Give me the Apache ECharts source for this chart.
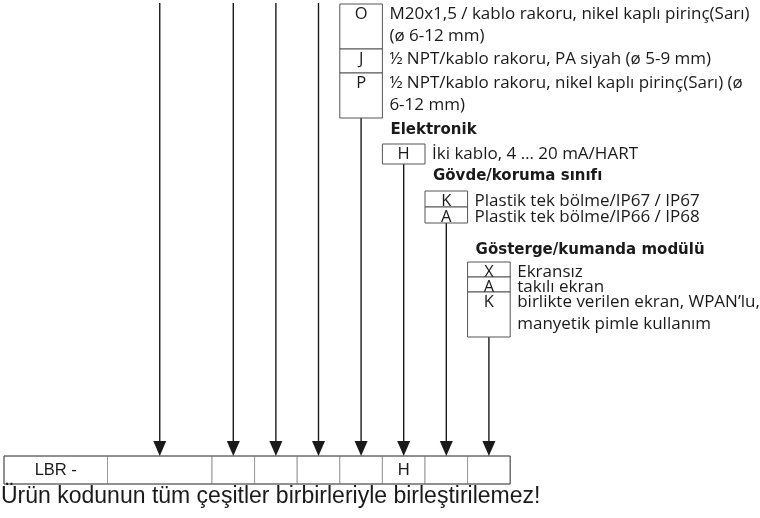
<!DOCTYPE html>
<html><head><meta charset="utf-8">
<script src="https://cdn.jsdelivr.net/npm/echarts@6/dist/echarts.min.js"></script>
<style>html,body{margin:0;padding:0;background:#fff}#chart{width:760px;height:518px}</style>
</head><body><div id="chart"></div>
<script>
// ---------------- data ----------------
const cellLabels = ['LBR -', '', '', '', '', '', 'H', '', ''];
const arrowSlots = [1, 2, 3, 4, 5, 6, 7, 8];
const groupSlots = [5, 6, 7, 8];
const groupTitles = ['', 'Elektronik', 'Gövde/koruma sınıfı', 'Gösterge/kumanda modülü'];
const optionCodes = [['O', 'J', 'P'], ['H'], ['K', 'A'], ['X', 'A', 'K']];
const optionTexts = [
  ['M20x1,5 / kablo rakoru, nikel kaplı pirinç(Sarı)\n(ø 6-12 mm)',
   '½ NPT/kablo rakoru, PA siyah (ø 5-9 mm)',
   '½ NPT/kablo rakoru, nikel kaplı pirinç(Sarı) (ø\n6-12 mm)'],
  ['İki kablo, 4 … 20 mA/HART'],
  ['Plastik tek bölme/IP67 / IP67', 'Plastik tek bölme/IP66 / IP68'],
  ['Ekransız', 'takılı ekran', 'birlikte verilen ekran, WPAN\u2019lu,\nmanyetik pimle kullanım']
];
const footnote = 'Ürün kodunun tüm çeşitler birbirleriyle birleştirilemez!';

// ---------------- layout (pixels in axis units) ----------------
const L = {
  rowX: 4, firstW: [103.5, 104.5], slotW: 42.6, rowTop: 456, rowBottom: 484,
  lineTop: 3, arrowLen: 15, arrowHalf: 6.5,
  groupRows: [[[4, 49], [49, 73], [73, 118]], [[144, 164]], [[191, 207], [207, 223]], [[262, 277], [277, 292], [292, 337]]],
  titleY: [0, 130, 176, 250],
  lineH: 22, textDy: 10.5, codeDy: 10, titleDx: 8, descDx: 7
};
const FONT_DESC = '17px "Open Sans"';
const FONT_CODE = '16.5px "Open Sans"';
const FONT_TITLE = 'bold 15px "DejaVu Sans"';
const FONT_CELL = '16.5px "Liberation Sans"';
const FONT_NOTE = '23px "Liberation Sans"';
const INK = '#1a1a1a';

function slotLeft(i) { let x = L.rowX; for (let k = 0; k < i; k++) x += k < 2 ? L.firstW[k] : L.slotW; return x; }
function slotRight(i) { return slotLeft(i) + (i < 2 ? L.firstW[i] : L.slotW); }
function slotCenter(i) { return (slotLeft(i) + slotRight(i)) / 2; }
function groupBottom(g) { const r = L.groupRows[g]; return r[r.length - 1][1]; }

const chart = echarts.init(document.getElementById('chart'), null, { renderer: 'canvas' });

const option = {
  animation: false,
  backgroundColor: '#fff',
  grid: { left: 0, right: 0, top: 0, bottom: 0 },
  xAxis: { type: 'value', min: 0, max: 760, show: false },
  yAxis: { type: 'value', min: 0, max: 518, inverse: true, show: false },
  series: [
    { // bottom code row cells
      type: 'custom', silent: true,
      data: cellLabels.map((t, i) => [i]),
      renderItem(params, api) {
        const i = api.value(0);
        const p0 = api.coord([slotLeft(i), L.rowTop]);
        const p1 = api.coord([slotRight(i), L.rowBottom]);
        return { type: 'group', children: [
          { type: 'rect', shape: { x: p0[0], y: p0[1], width: p1[0] - p0[0], height: p1[1] - p0[1] },
            style: { fill: '#fff', stroke: '#9a9a9a', lineWidth: 1 } },
          { type: 'text', style: { text: cellLabels[i], x: (p0[0] + p1[0]) / 2, y: (p0[1] + p1[1]) / 2,
            align: 'center', verticalAlign: 'middle', font: FONT_CELL, fill: INK } }
        ] };
      }
    },
    { // outer frame of code row
      type: 'custom', silent: true, data: [[0]],
      renderItem(params, api) {
        const p0 = api.coord([slotLeft(0), L.rowTop]);
        const p1 = api.coord([slotRight(cellLabels.length - 1), L.rowBottom]);
        return { type: 'rect', shape: { x: p0[0], y: p0[1], width: p1[0] - p0[0], height: p1[1] - p0[1] },
          style: { fill: 'none', stroke: '#555', lineWidth: 1 } };
      }
    },
    { // connector lines with arrow heads
      type: 'custom', silent: true,
      data: arrowSlots.map(s => [s]),
      renderItem(params, api) {
        const s = api.value(0);
        const g = groupSlots.indexOf(s);
        const y0 = g >= 0 ? groupBottom(g) : L.lineTop;
        const cx = slotCenter(s);
        const a = api.coord([cx, y0]);
        const b = api.coord([cx, L.rowTop - L.arrowLen]);
        const tip = api.coord([cx, L.rowTop]);
        const bl = api.coord([cx - L.arrowHalf, L.rowTop - L.arrowLen]);
        const br = api.coord([cx + L.arrowHalf, L.rowTop - L.arrowLen]);
        return { type: 'group', children: [
          { type: 'line', shape: { x1: a[0], y1: a[1], x2: b[0], y2: b[1] + 1 }, style: { stroke: INK, lineWidth: 1.4 } },
          { type: 'polygon', shape: { points: [bl, br, tip] }, style: { fill: INK } }
        ] };
      }
    },
    { // option boxes, titles and descriptions
      type: 'custom', silent: true,
      data: groupSlots.map((s, g) => [g]),
      renderItem(params, api) {
        const g = api.value(0);
        const s = groupSlots[g];
        const children = [];
        if (groupTitles[g]) {
          const t = api.coord([slotLeft(s) + L.titleDx, L.titleY[g]]);
          children.push({ type: 'text', style: { text: groupTitles[g], x: t[0], y: t[1], align: 'left',
            verticalAlign: 'middle', font: FONT_TITLE, fill: INK } });
        }
        L.groupRows[g].forEach((r, k) => {
          const p0 = api.coord([slotLeft(s), r[0]]);
          const p1 = api.coord([slotRight(s), r[1]]);
          children.push({ type: 'rect', shape: { x: p0[0], y: p0[1], width: p1[0] - p0[0], height: p1[1] - p0[1] },
            style: { fill: '#fff', stroke: '#555', lineWidth: 1 } });
          const c = api.coord([slotCenter(s), r[0] + L.codeDy]);
          children.push({ type: 'text', style: { text: optionCodes[g][k], x: c[0], y: c[1], align: 'center',
            verticalAlign: 'middle', font: FONT_CODE, fill: INK } });
          const d = api.coord([slotRight(s) + L.descDx, r[0] + L.textDy - L.lineH / 2]);
          children.push({ type: 'text', style: { text: optionTexts[g][k], x: d[0], y: d[1], align: 'left',
            verticalAlign: 'top', font: FONT_DESC, lineHeight: L.lineH, fill: INK } });
        });
        return { type: 'group', children };
      }
    },
    { // footnote
      type: 'custom', silent: true, data: [[0]],
      renderItem(params, api) {
        const p = api.coord([1, 497]);
        return { type: 'text', style: { text: footnote, x: p[0], y: p[1], align: 'left', verticalAlign: 'middle',
          font: FONT_NOTE, fill: INK } };
      }
    }
  ]
};
chart.setOption(option);
</script></body></html>
